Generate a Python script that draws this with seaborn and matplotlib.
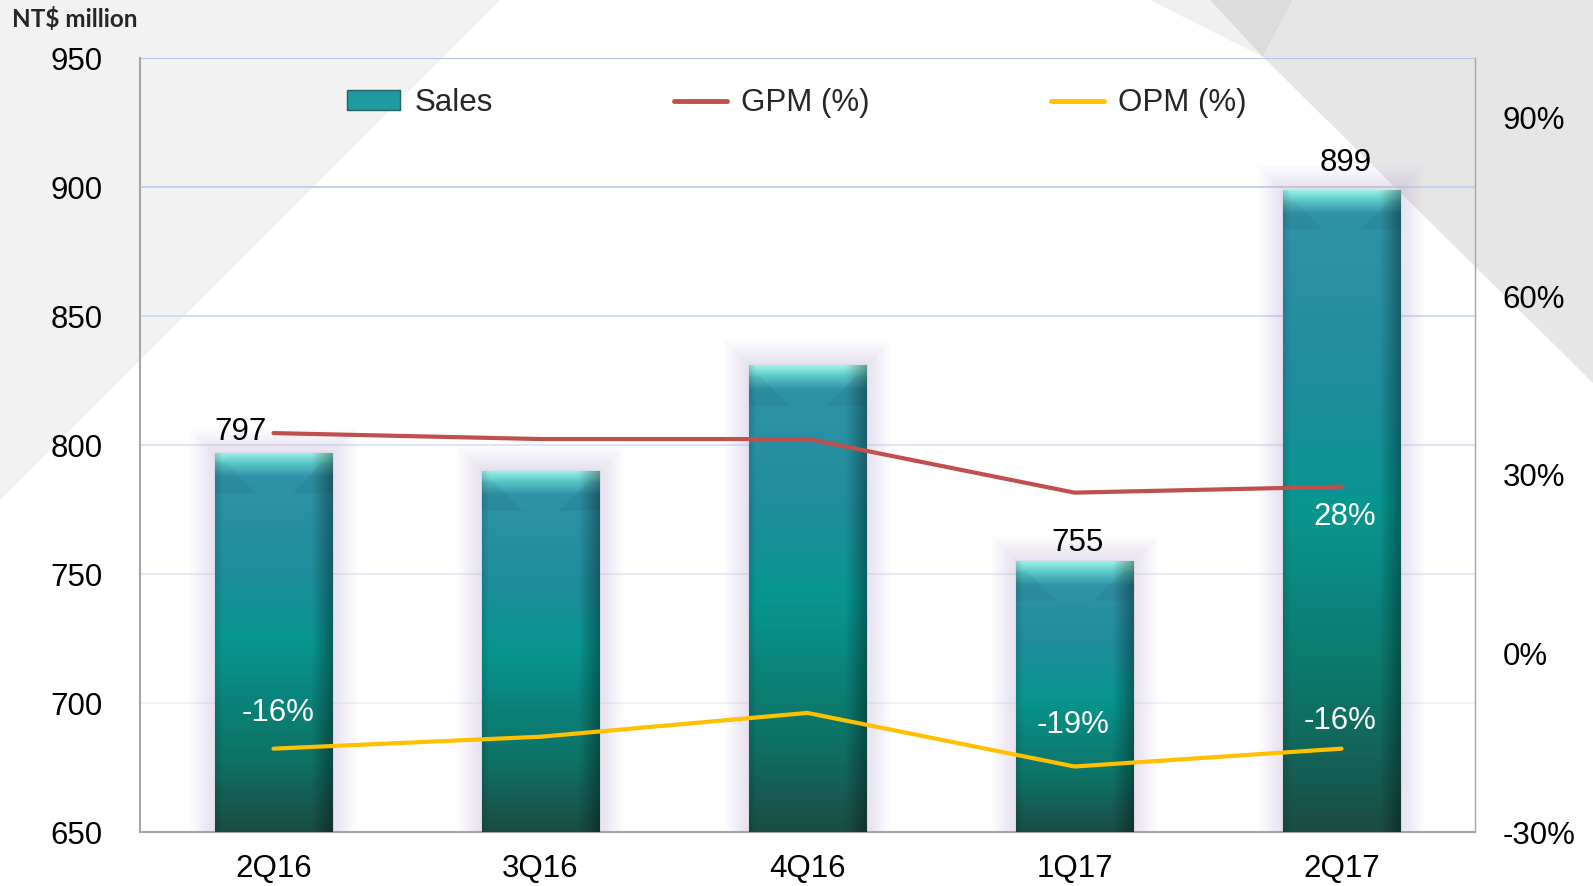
import numpy as np
import matplotlib
matplotlib.use("Agg")
import matplotlib.pyplot as plt
import seaborn as sns
from matplotlib.patches import Polygon, Rectangle, Patch
from matplotlib.lines import Line2D
from matplotlib.colors import to_rgb

# data
quarters = ["2Q16", "3Q16", "4Q16", "1Q17", "2Q17"]
sales = [797, 790, 831, 755, 899]
gpm = [37, 36, 36, 27, 28]
opm = [-16, -14, -10, -19, -16]

left_ticks = [650, 700, 750, 800, 850, 900, 950]
right_ticks = [-30, 0, 30, 60, 90]

GPM_COL = "#c0504d"
OPM_COL = "#ffc000"

sns.set_theme(style="white")
plt.rcParams["font.family"] = ["Liberation Sans", "DejaVu Sans"]

fig = plt.figure(figsize=(15.93, 8.86), dpi=100)
fig.patch.set_facecolor("white")
W, H = 1593, 886

def fig_poly(pts, colour):
    pts = [(x / W, 1 - y / H) for x, y in pts]
    fig.add_artist(Polygon(pts, closed=True, transform=fig.transFigure,
                           facecolor=colour, edgecolor="none", zorder=-5))

# background shapes
fig_poly([(0, 0), (500, 0), (0, 500)], "#f2f2f2")
fig_poly([(1150, 0), (1210, 0), (1263, 57)], "#f0f0f0")
fig_poly([(1210, 0), (1293, 0), (1263, 57)], "#dcdcdc")
fig_poly([(1293, 0), (1593, 0), (1593, 383), (1263, 57)], "#e6e6e6")

ax1 = fig.add_axes([140 / W, 1 - 832 / H, (1475 - 140) / W, (832 - 58) / H])
ax1.set_facecolor("none")
ax2 = ax1.twinx()

# grid lines, fading downward
grid_cols = {950: "#b4c6e7", 900: "#c3d1ec", 850: "#d3ddf1", 800: "#dde5f4",
             750: "#e6ecf7", 700: "#eef2f9"}
for v, c in grid_cols.items():
    ax1.axhline(v, color=c, lw=1.5, zorder=0)

sns.barplot(x=quarters, y=sales, ax=ax1, color="#0a9690", width=0.44,
            edgecolor="#1e5a55", linewidth=0.8, zorder=3)
ax1.set_xlim(-0.5, 4.5)
ax1.set_ylim(650, 950)

# px per data unit
px_x = (1475 - 140) / 5.0
px_y = (832 - 58) / 300.0

stops = [(0.0, "#9cf5e6"), (0.035, "#5cc8c8"), (0.08, "#3093a8"),
         (0.3, "#1f8d9c"), (0.5, "#07968f"), (0.8, "#0e7266"), (1.0, "#1b4c43")]

for p in ax1.patches:
    x0, w = p.get_x(), p.get_width()
    top = p.get_height()
    h_px = (top - 650) * px_y
    # glow
    for k in range(1, 9):
        d = k * 3
        ax1.add_patch(Rectangle((x0 - d / px_x, 650), w + 2 * d / px_x,
                                top - 650 + d / px_y, facecolor="#c4b2dc",
                                edgecolor="none", alpha=0.05, zorder=2))
    rows, cols = 400, 100
    t = np.linspace(0, 1, rows)
    pos = [s[0] for s in stops]
    pos = [pp if pp >= 0.3 else pp * 300 / max(h_px, 1) for pp in pos]
    pos = np.maximum.accumulate(pos)
    rgb = np.array([to_rgb(s[1]) for s in stops])
    vert = np.stack([np.interp(t, pos, rgb[:, i]) for i in range(3)], axis=1)
    s = np.linspace(0, 1, cols)
    hor = 1 - 0.35 * np.clip((s - 0.82) / 0.18, 0, 1) - 0.12 * np.clip((0.06 - s) / 0.06, 0, 1)
    img = vert[:, None, :] * hor[None, :, None]
    # top bevel: V shaped inner face
    ypx = t[:, None] * h_px
    xl = s[None, :] * w * px_x
    xr = (1 - s[None, :]) * w * px_x
    side = (ypx < 40) & ((xl < ypx) | (xr < ypx)) & (ypx > 10)
    img = np.where(side[:, :, None], img * 0.95, img)
    im = ax1.imshow(np.clip(img, 0, 1), extent=[x0, x0 + w, 650, top],
                    aspect="auto", origin="upper", zorder=4, interpolation="bilinear")
    im.set_clip_path(p)

ax1.set_xlim(-0.5, 4.5)
ax1.set_ylim(650, 950)

idx = np.arange(len(quarters))
sns.lineplot(x=idx, y=gpm, ax=ax2, color=GPM_COL, lw=3, legend=False,
             solid_capstyle="round")
sns.lineplot(x=idx, y=opm, ax=ax2, color=OPM_COL, lw=3, legend=False,
             solid_capstyle="round")
ax2.set_ylim(-30, 100)
ax2.set_xlim(-0.5, 4.5)

# axes style
ax1.set_yticks(left_ticks)
ax1.set_yticklabels([str(v) for v in left_ticks])
ax2.set_yticks(right_ticks)
ax2.set_yticklabels([f"{v}%" for v in right_ticks])
ax1.tick_params(axis="y", length=0, pad=27, labelsize=22.5, labelcolor="black")
ax2.tick_params(axis="y", length=0, pad=20, labelsize=22.5, labelcolor="black")
ax1.tick_params(axis="x", length=0, pad=16, labelsize=22.5, labelcolor="black")
ax1.set_xlabel("")
ax1.set_ylabel("")
ax2.set_ylabel("")
for ax in (ax1, ax2):
    ax.spines["top"].set_visible(False)
ax1.spines["left"].set_color("#a6a6a6")
ax1.spines["bottom"].set_color("#a6a6a6")
ax1.spines["left"].set_linewidth(1.5)
ax1.spines["bottom"].set_linewidth(1.5)
ax2.spines["left"].set_visible(False)
ax2.spines["bottom"].set_visible(False)
ax2.spines["right"].set_color("#a6a6a6")
ax2.spines["right"].set_linewidth(1)
ax1.spines["right"].set_visible(False)

# sales labels
sales_lab = {0: (-24, 15), 3: (2, 13), 4: (3, 19)}
for i, (dx, dy) in sales_lab.items():
    ax1.annotate(str(sales[i]), (i, sales[i]), xytext=(dx, dy),
                 textcoords="offset points", ha="center", va="center",
                 fontsize=22.5, color="black", zorder=6)

# percent labels
opm_lab = {0: (3, 26), 3: (-1, 30), 4: (-1, 20)}
for i, (dx, dy) in opm_lab.items():
    ax2.annotate(f"{opm[i]}%", (i, opm[i]), xytext=(dx, dy),
                 textcoords="offset points", ha="center", va="center",
                 fontsize=22.5, color="white", zorder=6)
gpm_lab = {4: (2, -22)}
for i, (dx, dy) in gpm_lab.items():
    ax2.annotate(f"{gpm[i]}%", (i, gpm[i]), xytext=(dx, dy),
                 textcoords="offset points", ha="center", va="center",
                 fontsize=22.5, color="white", zorder=6)

# legend
handles = [Patch(facecolor="#1f9aa0", edgecolor="#2a5f66", label="Sales"),
           Line2D([], [], color=GPM_COL, lw=3.5, label="GPM (%)"),
           Line2D([], [], color=OPM_COL, lw=3.5, label="OPM (%)")]
fig.legend(handles=handles, loc="center", bbox_to_anchor=(797 / W, 1 - 103 / H),
           ncol=3, frameon=False, fontsize=22.5, handlelength=1.7,
           handleheight=0.6, handletextpad=0.45, columnspacing=5.8)

fig.text(12 / W, 1 - 19 / H, "NT$ million", fontsize=17.5, fontweight="bold",
         family=["Lato", "DejaVu Sans"], ha="left", va="center")

fig.savefig("out.png", dpi=100)
